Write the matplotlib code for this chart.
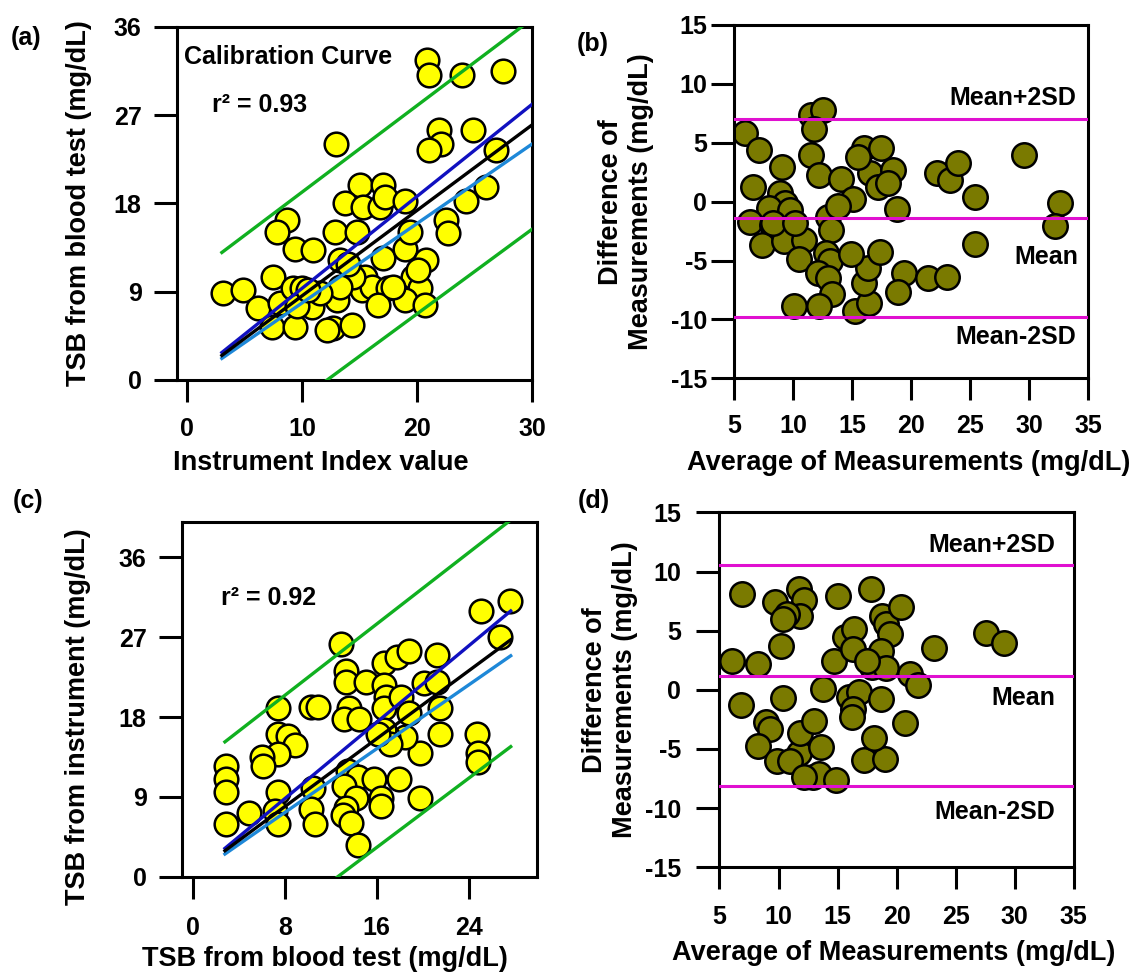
import matplotlib
matplotlib.use("Agg")
import matplotlib.pyplot as plt

plt.rcParams["font.family"] = ["Liberation Sans", "DejaVu Sans"]
plt.rcParams["font.weight"] = "bold"
plt.rcParams["axes.labelweight"] = "bold"
plt.rcParams["axes.unicode_minus"] = False

# ---- panel (a): calibration curve ----
a_x = [3.06, 4.86, 6.11, 7.47, 7.33, 8.06, 9.36, 9.22, 9.94, 10.82, 13.0, 12.7,
       12.12, 14.3, 13.28, 12.85, 14.74, 15.46, 15.17, 16.05, 17.5, 16.6, 17.06,
       18.95, 19.38, 20.8, 19.67, 20.25, 18.95, 20.7, 15.03, 17.06, 13.72, 15.3,
       16.77, 17.2, 18.95, 8.64, 7.77, 9.36, 10.96, 22.5, 22.7, 24.3, 14.44,
       13.28, 17.93, 20.1, 11.54, 14.0, 9.5, 10.5,
       12.91, 20.85, 21.0, 23.95, 27.5, 21.93, 22.09, 21.0, 24.9, 26.9, 25.97]
a_y = [8.83, 9.17, 7.31, 10.53, 5.43, 7.82, 5.43, 9.35, 9.35, 7.47, 8.15, 5.27,
       5.1, 5.6, 12.23, 15.12, 15.12, 10.53, 9.17, 9.51, 9.35, 7.65, 12.4,
       13.4, 15.12, 12.23, 10.53, 9.35, 8.15, 7.65, 19.88, 19.88, 18.0, 17.67,
       17.67, 18.7, 18.2, 16.3, 15.12, 13.4, 13.25, 16.3, 14.95, 18.2, 10.53,
       9.51, 9.51, 11.2, 8.83, 11.8, 7.5, 9.2,
       24.1, 32.6, 31.1, 31.1, 31.5, 25.5, 24.1, 23.45, 25.5, 23.45, 19.7]
a_line_x = [3.0, 30.0]
a_fit = [2.5, 26.0]
a_upper_ci = [2.8, 28.1]
a_lower_ci = [2.2, 24.05]
a_pred_hi = [13.0, 36.8]
a_pred_lo = [-7.9, 15.36]

# ---- panel (b): Bland-Altman ----
b_avg = [5.94, 7.11, 9.07, 6.65, 8.93, 9.35, 7.95, 9.78, 6.35, 8.22, 7.35, 9.21,
         10.95, 10.55, 11.55, 12.55, 11.82, 11.55, 12.25, 14.1, 15.1, 12.95,
         13.25, 13.81, 12.82, 13.1, 12.1, 12.95, 13.35, 10.06, 12.25, 15.25,
         16.45, 16.03, 16.32, 14.9, 17.35, 16.05, 17.5, 16.52, 18.51, 17.22,
         18.05, 15.55, 18.79, 22.2, 23.35, 23.95, 25.45, 25.45, 19.45, 21.45,
         23.05, 18.9, 8.35, 10.2, 29.6, 32.6, 32.2]
b_diff = [5.8, 4.39, 2.98, 1.28, 0.72, -0.13, -0.55, -0.7, -1.69, -1.97, -3.66,
          -3.38, -3.24, -4.9, 7.36, 7.78, 6.2, 3.94, 2.24, 1.96, 0.26, -1.3,
          -2.4, -0.41, -4.34, -5.05, -6.03, -6.45, -7.86, -8.89, -8.89, -9.3,
          -8.6, -6.9, -5.6, -4.46, -4.3, 4.53, 4.53, 2.41, 2.7, 1.28, 1.56, 3.8,
          -0.6, 2.4, 1.85, 3.27, 0.38, -3.57, -6.1, -6.5, -6.4, -7.7, -1.8,
          -1.83, 3.96, -0.08, -2.06]
b_mean, b_hi, b_lo = -1.4, 7.0, -9.8

# ---- panel (c): instrument vs blood test ----
c_x = [12.9, 13.35, 13.35, 15.07, 16.65, 17.8, 18.8, 21.25, 16.65, 16.8, 16.65,
       18.1, 18.8, 20.1, 21.25, 21.55, 21.55, 19.8, 18.5, 16.95, 16.65, 17.2,
       13.6, 13.2, 14.5, 10.3, 10.9, 7.45, 7.45, 8.3, 8.9, 7.45, 6.0, 6.15,
       2.85, 2.85, 2.85, 2.85, 4.86, 7.45, 7.16, 7.45, 10.5, 10.3, 10.6, 13.5,
       14.4, 13.2, 14.2, 13.35, 13.1, 13.8, 14.4, 15.8, 16.4, 16.4, 17.95,
       19.8, 24.7, 24.85, 24.85, 26.7, 16.1, 25.1, 27.6]
c_y = [26.2, 23.2, 22.0, 22.0, 24.1, 24.8, 25.4, 25.0, 21.6, 20.3, 19.0, 20.3,
       18.4, 21.8, 22.0, 19.0, 16.1, 14.0, 15.7, 15.7, 16.5, 15.0, 19.0, 17.8,
       17.8, 19.1, 19.1, 19.0, 16.1, 15.9, 14.8, 13.8, 13.5, 12.5, 12.5, 11.0,
       9.5, 5.9, 7.2, 9.5, 7.4, 5.9, 9.99, 7.6, 5.9, 11.95, 11.2, 10.2, 8.9,
       7.8, 7.0, 6.1, 3.6, 11.0, 8.9, 8.0, 11.0, 8.9, 16.1, 14.0, 12.9, 27.0,
       16.1, 30.0, 31.1]
c_line_x = [2.8, 27.67]
c_fit = [2.93, 26.7]
c_upper_ci = [3.2, 29.95]
c_lower_ci = [2.56, 24.9]
c_pred_hi = [15.2, 40.2]
c_pred_lo = [-9.56, 14.66]

# ---- panel (d): Bland-Altman ----
d_avg = [6.9, 9.7, 11.7, 12.14, 11.85, 10.7, 10.4, 15.0, 17.8, 10.2, 6.05, 8.3,
         14.7, 15.6, 16.4, 16.3, 18.8, 19.1, 19.4, 20.4, 23.2, 27.6, 29.1,
         18.65, 17.9, 19.1, 17.5, 21.1, 21.8, 13.8, 16.0, 16.8, 18.65, 16.3,
         16.2, 6.8, 10.4, 8.9, 9.3, 8.3, 9.9, 11.7, 11.8, 13.0, 13.6, 12.9,
         13.4, 14.9, 17.2, 19.0, 18.1, 20.7, 11.0, 12.2]
d_diff = [8.1, 7.4, 8.53, 7.55, 6.27, 6.41, 5.95, 7.95, 8.53, 3.72, 2.45, 2.15,
          2.45, 4.45, 5.15, 3.45, 6.27, 5.55, 4.72, 6.99, 3.55, 4.83, 3.98,
          3.25, 1.95, 1.85, 2.4, 1.31, 0.45, 0.11, -0.6, -0.19, -0.75, -1.6,
          -2.31, -1.25, -0.65, -2.75, -3.35, -4.75, -6.05, -5.35, -3.65, -2.65,
          -4.85, -7.4, -7.12, -7.65, -5.95, -5.85, -4.05, -2.8, -6.05, -7.4]
d_mean, d_hi, d_lo = 1.2, 10.55, -8.15

fig = plt.figure(figsize=(11.33, 9.72), dpi=100)
ax_a = fig.add_axes([0.1562, 0.6091, 0.3133, 0.3632])
ax_b = fig.add_axes([0.6478, 0.6108, 0.3124, 0.3635])
ax_c = fig.add_axes([0.1606, 0.0980, 0.3138, 0.3652])
ax_d = fig.add_axes([0.6350, 0.1077, 0.3127, 0.3652])

YELLOW = "#FFFF00"
OLIVE = "#7A7A00"
MAGENTA = "#E010D0"
GREEN = "#10B020"
DBLUE = "#1010C0"
LBLUE = "#1E88D8"


def style(ax, xlim, ylim, xticks, yticks, ypad, xpad):
    ax.set_xlim(xlim)
    ax.set_ylim(ylim)
    ax.set_xticks(xticks)
    ax.set_yticks(yticks)
    for s in ax.spines.values():
        s.set_linewidth(2.2)
    ax.tick_params(axis="y", direction="out", length=16.5, width=2.2,
                   pad=ypad, labelsize=18)
    ax.tick_params(axis="x", direction="out", length=16, width=2.2,
                   pad=xpad, labelsize=18)


def regression(ax, xs, fit, up, lo, phi, plo):
    ax.plot(xs, phi, color=GREEN, lw=2.4, zorder=3)
    ax.plot(xs, plo, color=GREEN, lw=2.4, zorder=3)
    ax.plot(xs, up, color=DBLUE, lw=2.4, zorder=3)
    ax.plot(xs, lo, color=LBLUE, lw=2.4, zorder=3)
    ax.plot(xs, fit, color="black", lw=2.4, zorder=4)


def bland(ax, avg, diff, mean, hi, lo):
    ax.scatter(avg, diff, s=310, c=OLIVE, edgecolors="black",
               linewidths=1.8, zorder=2)
    for v in (hi, mean, lo):
        ax.axhline(v, color=MAGENTA, lw=2.2, zorder=3)


# (a)
ax_a.scatter(a_x, a_y, s=290, c=YELLOW, edgecolors="black",
             linewidths=1.8, zorder=2)
regression(ax_a, a_line_x, a_fit, a_upper_ci, a_lower_ci, a_pred_hi, a_pred_lo)
style(ax_a, (-0.91, 30), (0, 36), [0, 10, 20, 30], [0, 9, 18, 27, 36], 9, 11)
ax_a.text(-0.31, 32.96, "Calibration Curve", fontsize=18, ha="left", va="center")
ax_a.text(2.18, 28.0, "r² = 0.93", fontsize=18, ha="left", va="center")
ax_a.set_xlabel("Instrument Index value", fontsize=19.5, va="center")
ax_a.xaxis.set_label_coords(0.404, -0.235)
ax_a.set_ylabel("TSB from blood test (mg/dL)", fontsize=19.5, va="center")
ax_a.yaxis.set_label_coords(-0.277, 0.5)

# (b)
bland(ax_b, b_avg, b_diff, b_mean, b_hi, b_lo)
style(ax_b, (5, 35), (-15, 15), range(5, 36, 5), range(-15, 16, 5), 3, 9.5)
ax_b.text(34.0, 8.78, "Mean+2SD", fontsize=18, ha="right", va="center")
ax_b.text(34.15, -4.67, "Mean", fontsize=18, ha="right", va="center")
ax_b.text(34.0, -11.46, "Mean-2SD", fontsize=18, ha="right", va="center")
ax_b.set_xlabel("Average of Measurements (mg/dL)", fontsize=19.5, va="center")
ax_b.xaxis.set_label_coords(0.493, -0.24)
ax_b.set_ylabel("Difference of\nMeasurements (mg/dL)", fontsize=19.5, va="center")
ax_b.yaxis.set_label_coords(-0.304, 0.5)

# (c)
ax_c.scatter(c_x, c_y, s=290, c=YELLOW, edgecolors="black",
             linewidths=1.8, zorder=2)
regression(ax_c, c_line_x, c_fit, c_upper_ci, c_lower_ci, c_pred_hi, c_pred_lo)
style(ax_c, (-0.94, 30), (0, 40), [0, 8, 16, 24], [0, 9, 18, 27, 36], 9, 12)
ax_c.text(2.49, 31.4, "r² = 0.92", fontsize=18, ha="left", va="center")
ax_c.set_xlabel("TSB from blood test (mg/dL)", fontsize=19.5, va="center")
ax_c.xaxis.set_label_coords(0.402, -0.232)
ax_c.set_ylabel("TSB from instrument (mg/dL)", fontsize=19.5, va="center")
ax_c.yaxis.set_label_coords(-0.291, 0.45)

# (d)
bland(ax_d, d_avg, d_diff, d_mean, d_hi, d_lo)
style(ax_d, (5, 35), (-15, 15), range(5, 36, 5), range(-15, 16, 5), 11, 11)
ax_d.text(33.45, 12.24, "Mean+2SD", fontsize=18, ha="right", va="center")
ax_d.text(33.45, -0.72, "Mean", fontsize=18, ha="right", va="center")
ax_d.text(33.45, -10.3, "Mean-2SD", fontsize=18, ha="right", va="center")
ax_d.set_xlabel("Average of Measurements (mg/dL)", fontsize=19.5, va="center")
ax_d.xaxis.set_label_coords(0.492, -0.241)
ax_d.set_ylabel("Difference of\nMeasurements (mg/dL)", fontsize=19.5, va="center")
ax_d.yaxis.set_label_coords(-0.309, 0.5)

# panel letters
fig.text(10.7 / 1133, 1 - 38 / 972, "(a)", fontsize=18, ha="left", va="center")
fig.text(576.5 / 1133, 1 - 44 / 972, "(b)", fontsize=18, ha="left", va="center")
fig.text(12.5 / 1133, 1 - 500.7 / 972, "(c)", fontsize=18, ha="left", va="center")
fig.text(578 / 1133, 1 - 500.7 / 972, "(d)", fontsize=18, ha="left", va="center")

fig.savefig("out.png", dpi=100)
